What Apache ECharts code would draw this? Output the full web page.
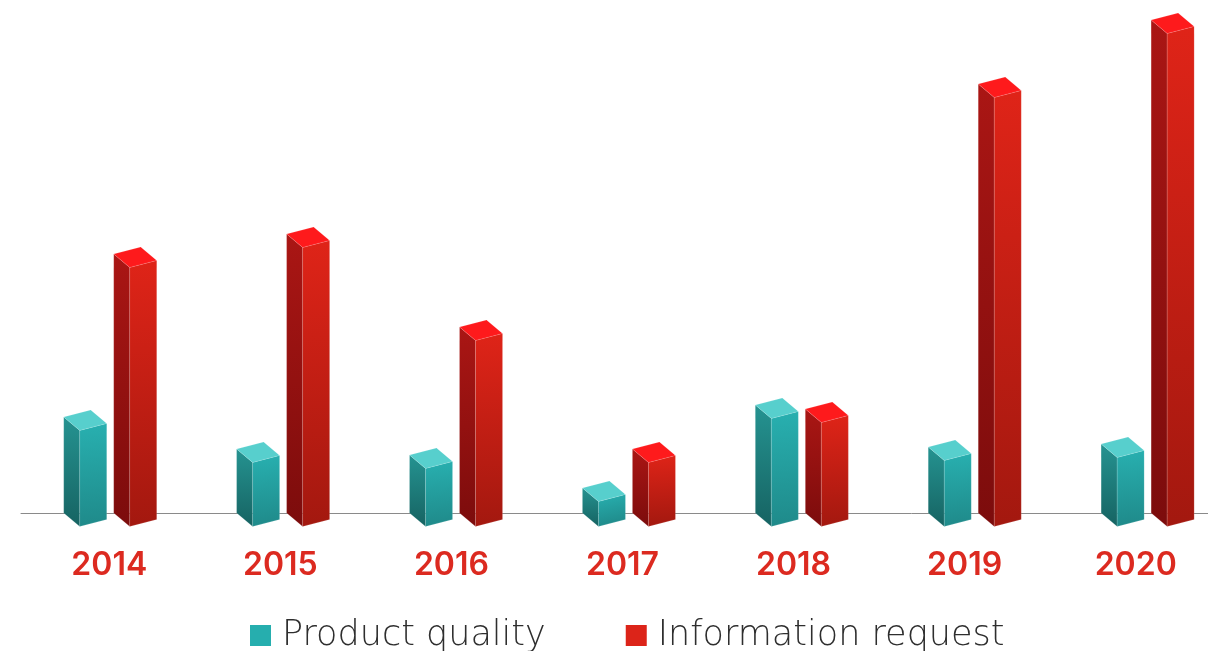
<!DOCTYPE html>
<html>
<head>
<meta charset="utf-8">
<style>
  html, body { margin: 0; padding: 0; background: #fff; overflow: hidden; }
  #chart { width: 1208px; height: 651px; }
</style>
<script src="https://cdn.jsdelivr.net/npm/echarts@6/dist/echarts.min.js"></script>
</head>
<body>
<div id="chart"></div>
<script>
const years = ['2014', '2015', '2016', '2017', '2018', '2019', '2020']
const productQuality = [96, 64, 58, 25, 108, 66, 69]
const informationRequest = [259, 279, 186, 64, 104, 429, 493]

const BAR_SIDE = [16, 13.4]
const BAR_FRONT = [27, -7]

const grad = (x2, y2, from, to) => new echarts.graphic.LinearGradient(0, 0, x2, y2, [
  { offset: 0, color: from },
  { offset: 1, color: to }
])

const tealFaces = {
  top: '#57cfcd',
  side: grad(0, 1, '#259391', '#166362'),
  front: grad(0.25, 1, '#28b0b0', '#1f8a8a')
}
const redFaces = {
  top: '#fe1a1c',
  side: grad(0, 1, '#aa1614', '#7c0c0c'),
  front: grad(0.15, 1, '#df2418', '#a3180f')
}

// draws one box, left corner sits on the axis at the value height
const makeBox = (offset, faces) => (params, api) => {
  const idx = api.value(0)
  const top = api.coord([idx, api.value(1)])
  const base = api.coord([idx, 0])
  const x = top[0] + offset
  const tl = [x, top[1]]
  const bl = [x, base[1]]
  const add = (p, d) => [p[0] + d[0], p[1] + d[1]]
  const tf = add(tl, BAR_SIDE)
  const bf = add(bl, BAR_SIDE)
  const tr = add(tf, BAR_FRONT)
  const br = add(bf, BAR_FRONT)
  const tb = add(tl, BAR_FRONT)
  const edge = 'rgba(255,255,255,0.2)'
  const poly = (points, fill) => ({
    type: 'polygon',
    shape: { points },
    style: { fill, stroke: edge, lineWidth: 0.6 }
  })
  return {
    type: 'group',
    children: [
      poly([tl, tf, bf, bl], faces.side),
      poly([tf, tr, br, bf], faces.front),
      poly([tl, tb, tr, tf], faces.top)
    ]
  }
}

const chart = echarts.init(document.getElementById('chart'))
chart.setOption({
  animation: false,
  color: ['#26aeae', '#dc2419'],
  grid: [
    { left: 21, right: 0, top: 13, height: 500 },
    { left: 109.3, width: 1026.4, top: 13, height: 500 }
  ],
  xAxis: [
    {
      // bars sit on this one, index scale so the baseline can run wider than the bars
      type: 'value',
      gridIndex: 0,
      min: -0.516,
      max: 6.349,
      splitLine: { show: false },
      axisTick: { show: false },
      axisLabel: { show: false },
      axisLine: { show: true, lineStyle: { color: '#8a8a8a', width: 1 } }
    },
    {
      type: 'category',
      gridIndex: 1,
      data: years,
      boundaryGap: false,
      axisLine: { show: false },
      axisTick: { show: false },
      axisLabel: {
        margin: 36,
        color: '#dc2a20',
        fontFamily: 'Inter',
        fontWeight: 600,
        fontSize: 32,
        showMinLabel: true,
        showMaxLabel: true,
        interval: 0
      }
    }
  ],
  yAxis: [
    { type: 'value', gridIndex: 0, min: 0, max: 500, show: false },
    { type: 'value', gridIndex: 1, min: 0, max: 500, show: false }
  ],
  legend: {
    left: 245,
    top: 613,
    icon: 'rect',
    itemWidth: 21,
    itemHeight: 21,
    itemGap: 80,
    textStyle: {
      color: '#2e2e2e',
      fontFamily: '"DejaVu Sans Light", "DejaVu Sans"',
      fontWeight: 200,
      fontSize: 35,
      padding: [0, 0, 0, 6]
    },
    data: ['Product quality', 'Information request']
  },
  series: [
    {
      name: 'Product quality',
      type: 'custom',
      xAxisIndex: 0,
      yAxisIndex: 0,
      renderItem: makeBox(-46.5, tealFaces),
      encode: { x: 0, y: 1 },
      data: years.map((y, i) => [i, productQuality[i]])
    },
    {
      name: 'Information request',
      type: 'custom',
      xAxisIndex: 0,
      yAxisIndex: 0,
      renderItem: makeBox(3.5, redFaces),
      encode: { x: 0, y: 1 },
      data: years.map((y, i) => [i, informationRequest[i]])
    }
  ]
})
</script>
</body>
</html>
